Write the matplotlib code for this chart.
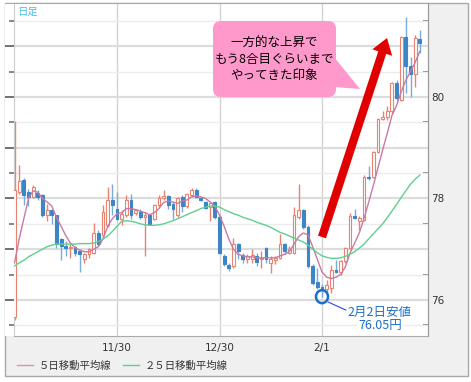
import numpy as np
import matplotlib.pyplot as plt
from matplotlib.patches import Rectangle, FancyBboxPatch, Polygon, Ellipse
from matplotlib.lines import Line2D
from matplotlib.ticker import MultipleLocator, FixedLocator
from matplotlib.transforms import IdentityTransform

plt.rcParams['font.family'] = ['Noto Sans CJK JP', 'DejaVu Sans']

W, H = 471, 382

# daily candles (USD/JPY style)
opens = [75.67, 78.13, 78.37, 78.13, 78.03, 78.11, 78.07, 77.67, 77.78, 77.67,
         77.20, 77.07, 77.02, 77.05, 76.97, 76.81, 76.91, 76.93, 77.32, 77.27,
         77.47, 77.97, 77.80, 77.59, 77.67, 77.97, 77.72, 77.73, 77.63, 77.67,
         77.60, 77.88, 78.00, 78.05, 77.90, 77.67, 78.03, 77.85, 78.07, 78.17,
         78.00, 77.93, 77.83, 77.92, 77.63, 76.87, 76.68, 76.67, 77.10, 76.88,
         76.80, 76.81, 76.87, 76.80, 77.03, 76.73, 76.79, 76.83, 77.10, 76.93,
         76.93, 77.63, 77.77, 77.43, 76.67, 76.36, 76.26, 76.22, 76.23, 76.59,
         76.56, 76.76, 77.03, 77.66, 77.56, 77.58, 78.43, 78.43, 78.92, 79.56,
         79.61, 79.72, 80.27, 79.94, 81.19, 80.60, 80.45, 81.14]
highs = [79.53, 78.65, 78.40, 78.18, 78.27, 78.17, 78.08, 77.90, 77.80, 77.68,
         77.23, 77.17, 77.10, 77.07, 77.00, 76.93, 77.03, 77.52, 77.37, 77.87,
         78.23, 78.28, 78.13, 77.77, 78.07, 78.08, 77.80, 77.80, 77.73, 77.70,
         77.90, 78.07, 78.17, 78.07, 77.93, 78.03, 78.07, 78.10, 78.20, 78.21,
         78.03, 77.95, 77.93, 77.95, 77.67, 76.90, 76.73, 77.23, 77.13, 76.93,
         76.90, 77.00, 76.93, 76.97, 77.05, 76.87, 76.87, 77.30, 77.13, 77.07,
         77.83, 78.28, 77.80, 77.47, 76.70, 76.62, 76.31, 76.40, 76.69, 76.79,
         76.79, 77.05, 77.72, 77.79, 77.66, 78.46, 78.63, 78.93, 79.58, 79.72,
         79.83, 80.30, 80.34, 81.20, 81.58, 80.79, 81.22, 81.32]
lows = [75.60, 78.08, 77.87, 77.85, 78.00, 77.97, 77.63, 77.55, 77.50, 77.03,
        76.79, 76.87, 76.83, 76.87, 76.55, 76.73, 76.83, 76.90, 77.07, 77.23,
        77.43, 77.67, 77.57, 77.47, 77.63, 77.60, 77.67, 77.60, 76.87, 77.47,
        77.57, 77.83, 77.97, 77.80, 77.60, 77.63, 77.73, 77.81, 78.03, 78.00,
        77.95, 77.80, 77.55, 77.60, 76.90, 76.67, 76.57, 76.63, 76.80, 76.73,
        76.73, 76.73, 76.67, 76.63, 76.73, 76.53, 76.70, 76.80, 76.90, 76.90,
        76.90, 77.60, 77.40, 76.63, 76.30, 76.22, 76.05, 76.15, 76.13, 76.53,
        76.50, 76.73, 77.01, 77.60, 77.38, 77.55, 78.37, 78.40, 78.89, 79.54,
        79.55, 79.67, 79.94, 79.91, 80.07, 80.00, 80.20, 80.86]
closes = [78.17, 78.35, 78.07, 78.03, 78.23, 78.03, 77.67, 77.78, 77.67, 77.10,
          77.07, 77.02, 77.05, 76.93, 76.90, 76.91, 77.00, 77.32, 77.10, 77.73,
          77.97, 77.88, 77.60, 77.69, 77.97, 77.68, 77.77, 77.63, 77.67, 77.50,
          77.88, 78.00, 78.05, 77.88, 77.79, 78.01, 77.85, 78.08, 78.17, 78.03,
          77.96, 77.81, 77.91, 77.63, 76.93, 76.70, 76.63, 77.10, 76.97, 76.80,
          76.86, 76.88, 76.75, 76.83, 76.80, 76.80, 76.83, 77.10, 76.97, 77.01,
          77.67, 77.77, 77.43, 76.67, 76.33, 76.26, 76.22, 76.30, 76.59, 76.56,
          76.76, 77.03, 77.66, 77.62, 77.61, 78.43, 78.40, 78.92, 79.56, 79.61,
          79.72, 80.27, 79.97, 81.19, 80.60, 80.45, 81.16, 81.06]
ma5 = [76.73, 77.20, 77.60, 78.00, 78.15, 78.12, 78.00, 77.93, 77.85, 77.63,
       77.45, 77.27, 77.12, 77.03, 76.98, 76.95, 76.95, 77.00, 77.05, 77.20,
       77.45, 77.60, 77.70, 77.72, 77.80, 77.80, 77.78, 77.75, 77.72, 77.68,
       77.72, 77.80, 77.92, 77.95, 77.93, 77.90, 77.95, 77.97, 78.03, 78.05,
       78.03, 78.00, 77.93, 77.85, 77.67, 77.45, 77.20, 77.00, 76.90, 76.87,
       76.85, 76.85, 76.83, 76.83, 76.83, 76.83, 76.83, 76.87, 76.90, 76.95,
       77.10, 77.25, 77.32, 77.28, 77.05, 76.80, 76.55, 76.45, 76.42, 76.45,
       76.50, 76.65, 76.92, 77.12, 77.32, 77.60, 77.92, 78.25, 78.60, 78.95,
       79.28, 79.63, 79.83, 80.10, 80.33, 80.50, 80.68, 80.90]
ma25 = [76.67, 76.73, 76.78, 76.85, 76.90, 76.95, 77.00, 77.05, 77.08, 77.10,
        77.10, 77.10, 77.10, 77.10, 77.11, 77.11, 77.11, 77.12, 77.15, 77.20,
        77.26, 77.35, 77.45, 77.55, 77.56, 77.55, 77.53, 77.50, 77.48, 77.47,
        77.47, 77.48, 77.50, 77.53, 77.56, 77.60, 77.64, 77.68, 77.72, 77.76,
        77.80, 77.83, 77.85, 77.85, 77.83, 77.78, 77.74, 77.70, 77.67, 77.63,
        77.60, 77.57, 77.53, 77.50, 77.47, 77.43, 77.38, 77.33, 77.30, 77.26,
        77.22, 77.18, 77.14, 77.08, 77.00, 76.93, 76.87, 76.84, 76.82, 76.82,
        76.83, 76.86, 76.90, 76.95, 77.02, 77.10, 77.20, 77.30, 77.40, 77.50,
        77.62, 77.75, 77.88, 78.02, 78.15, 78.28, 78.38, 78.46]
tick_pos = [22, 44, 66]
tick_labels = ['11/30', '12/30', '2/1']

UP = '#e9826e'
DOWN = '#3d85c6'
DOWN_WICK = '#78acdc'


def fx(x):
    return x / W


def fy(y):
    return 1 - y / H


fig = plt.figure(figsize=(W / 100, H / 100), dpi=100)

# outer gray frame + white plot strip
fig.add_artist(Rectangle((fx(4.5), fy(376)), 463 / W, 373 / H, transform=fig.transFigure,
                         facecolor='#f0f0f0', edgecolor='#a8a8a8', lw=1, zorder=-2))
fig.add_artist(Rectangle((fx(5), fy(336)), 423 / W, 332.5 / H, transform=fig.transFigure,
                         facecolor='white', edgecolor='none', zorder=-1))

ax = fig.add_axes([fx(14), fy(336), 414 / W, 333 / H])

o = np.array(opens)
h = np.array(highs)
l = np.array(lows)
c = np.array(closes)
x = np.arange(len(c))
up = c >= o

ax.vlines(x[up], l[up], h[up], color=UP, lw=1, zorder=2)
ax.vlines(x[~up], l[~up], h[~up], color=DOWN_WICK, lw=1, zorder=2)
ax.bar(x[up], (c - o)[up], bottom=o[up], width=0.6, facecolor='white',
       edgecolor=UP, lw=0.8, zorder=3)
ax.bar(x[~up], (o - c)[~up], bottom=c[~up], width=0.6, facecolor=DOWN,
       edgecolor=DOWN, lw=0.8, zorder=3)
ax.plot(x, ma5, color='#c97aa3', lw=1, zorder=4)
ax.plot(x, ma25, color='#5fcf8f', lw=1, zorder=4)

ax.set_xlim(-0.11, 88.75)
ax.set_ylim(75.29, 81.85)

# left ticks: long at integers, short at halves
ax.yaxis.set_major_locator(MultipleLocator(1))
ax.yaxis.set_minor_locator(MultipleLocator(0.5))
ax.tick_params(axis='y', which='major', direction='out', length=6.5, width=1.3,
               color='#666666', labelleft=False)
ax.tick_params(axis='y', which='minor', direction='out', length=3.5, width=1.1,
               color='#666666')
ax.grid(axis='y', which='major', color='#dcdcdc', lw=1.6, zorder=0)
ax.grid(axis='y', which='minor', color='#ececec', lw=1, zorder=0)

ax.set_xticks(tick_pos, tick_labels)
ax.tick_params(axis='x', length=0, pad=5, labelsize=7.5, labelcolor='#333333')
for t in ax.get_xticklabels():
    t.set_fontfamily('DejaVu Sans')
ax.grid(axis='x', color='#d4d4d4', lw=1, zorder=0)
ax.set_axisbelow(True)

for side, col in [('left', '#cccccc'), ('bottom', '#aaaaaa'), ('right', '#999999'), ('top', '#a8a8a8')]:
    ax.spines[side].set_color(col)

# right side: labels every 2, ticks inward
sec = ax.secondary_yaxis('right')
sec.set_yticks([76, 78, 80])
sec.yaxis.set_minor_locator(FixedLocator([75.5, 76.5, 77, 77.5, 78.5, 79, 79.5, 80.5, 81, 81.5]))
sec.tick_params(which='major', direction='in', length=6.5, width=1.3, color='#666666',
                labelsize=7.5, labelcolor='#333333', pad=2)
sec.tick_params(which='minor', direction='in', length=3.5, width=1.1, color='#666666')
sec.spines['right'].set_color('#999999')
for t in sec.get_yticklabels():
    t.set_fontfamily('DejaVu Sans')

# big red arrow
ax.annotate('', xy=(79.95, 81.16), xytext=(66.0, 77.24),
            arrowprops=dict(arrowstyle='simple,head_length=1.1,head_width=1.5,tail_width=0.6',
                            mutation_scale=10, fc='#e00000', ec='none', shrinkA=0, shrinkB=0),
            zorder=5)

# low marker
ax.add_patch(Ellipse((66, 76.065), width=2.58, height=0.256, fill=False,
                     ec='#1a70c8', lw=1.8, zorder=6))
ax.annotate('', xy=(67.3, 75.96), xytext=(71.15, 75.80),
            arrowprops=dict(arrowstyle='-', color='#3344ee', lw=0.8, shrinkA=0, shrinkB=0))
fig.text(fx(379), fy(312), '2月2日安値', color='#1a70c8', fontsize=9,
         ha='center', va='center')
fig.text(fx(380), fy(326), '76.05円', color='#1a70c8', fontsize=9, ha='center', va='center',
         bbox=dict(facecolor='white', edgecolor='none', pad=0.5))

# callout bubble (pixel coords)
ident = IdentityTransform()
fig.add_artist(FancyBboxPatch((213, H - 97), 123, 76, boxstyle='round,pad=0,rounding_size=8',
                              transform=ident, facecolor='#ff99cc', edgecolor='none', zorder=5))
fig.add_artist(Polygon([(334, H - 57), (360, H - 89), (334, H - 87)], closed=True,
                       transform=ident, facecolor='#ff99cc', edgecolor='none', zorder=5))
for txt, yy in [('一方的な上昇で', 43), ('もう8合目ぐらいまで', 59.5), ('やってきた印象', 75)]:
    fig.text(fx(274.5), fy(yy), txt, fontsize=9, color='black', ha='center', va='center',
             zorder=6)

fig.text(fx(17), fy(12), '日足', color='#45c0ee', fontsize=7.5, va='center')

fig.legend(handles=[Line2D([], [], color='#e58fa3', lw=1), Line2D([], [], color='#5fcf8f', lw=1)],
           labels=['５日移動平均線', '２５日移動平均線'], loc='center left',
           bbox_to_anchor=(fx(17), fy(366)), ncol=2, frameon=False, fontsize=7.5,
           handlelength=1.5, handletextpad=0.6, columnspacing=1.1, borderpad=0,
           borderaxespad=0, labelcolor='#333333')

fig.savefig('out.png', dpi=100)
